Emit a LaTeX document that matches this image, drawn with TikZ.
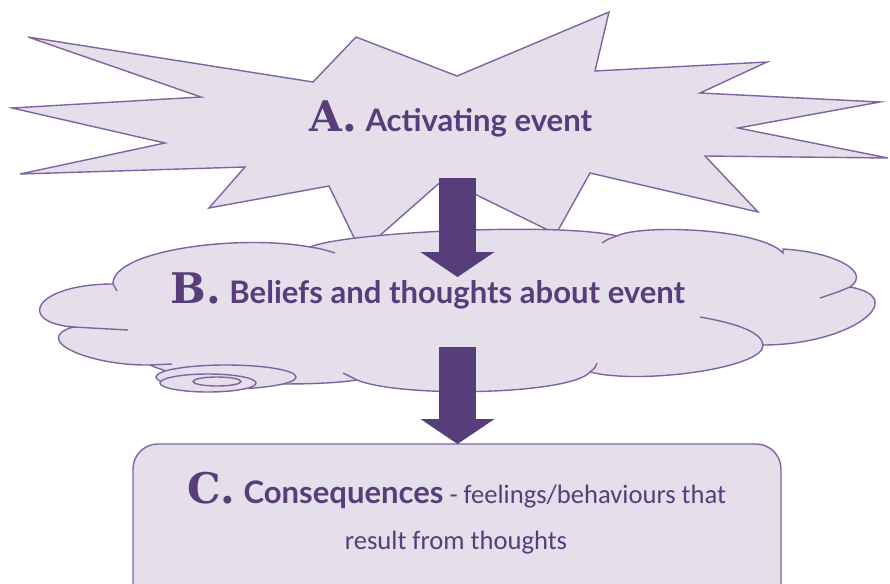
\documentclass[tikz,border=0pt]{standalone}
\usepackage{fontspec}
\setmainfont{Carlito}
\newfontfamily\headfont{Lato}
\newfontfamily\letterfont{DejaVu Serif}
\usepackage{tikz}
\usetikzlibrary{arrows.meta,positioning}

\definecolor{lilac}{HTML}{E5DFEC}
\definecolor{edgepurple}{HTML}{8064A2}
\definecolor{darkpurple}{HTML}{573E7A}

\newcommand{\stepletter}[1]{{\letterfont\bfseries\fontsize{36}{40}\selectfont #1}\hspace{7pt}}
\newcommand{\stephead}[1]{{\headfont\bfseries\fontsize{26.5}{30}\selectfont #1}}

\begin{document}
\begin{tikzpicture}[x=0.03cm,y=-0.03cm,
  outline/.style={draw=edgepurple,fill=lilac,line width=1.2pt},
  tail/.style={draw=edgepurple,line width=1.2pt},
  big arrow/.style={draw=darkpurple,line width=1.11cm,
    -{Triangle[width=2.22cm,length=0.75cm,line width=0pt]}},
  steptext/.style={anchor=base,inner sep=0pt,text=darkpurple,font=\fontsize{22.7}{27}\selectfont}]
\useasboundingbox (0,0) rectangle (890,583);
\clip (0,0) rectangle (890,583);

% A: the burst
\path[outline] (28,37) -- (313,82) -- (356,37) -- (457,76) -- (609,12) -- (595,71)
  -- (767,62) -- (700,93) -- (880,102) -- (738,128) -- (888,158) -- (705,156)
  -- (758,212) -- (590,173) -- (556,234) -- (444,179) -- (361,252) -- (329,186)
  -- (209,208) -- (245,167) -- (20,174) -- (165,143) -- (12,108) -- (201,97) -- cycle;

% B: the cloud, bump by bump
\path[outline] (113,284)
  .. controls (112,250) and (240,234) .. (310,247)
  .. controls (345,232) and (560,222) .. (617,236)
  .. controls (640,224) and (760,228) .. (783,253) -- (783,249)
  .. controls (835,252) and (872,272) .. (850,287)
  .. controls (912,298) and (850,345) .. (763,345)
  .. controls (765,368) and (640,385) .. (590,372)
  .. controls (570,395) and (400,398) .. (357,380)
  .. controls (320,386) and (200,388) .. (150,365)
  .. controls (90,366) and (30,340) .. (73,327)
  .. controls (15,322) and (35,284) .. (113,284) -- cycle;
% inner ends of the bumps
\draw[tail] (310,247) .. controls (322,249) .. (335,253);
\draw[tail] (602,243) .. controls (608,239) .. (617,236);
\draw[tail] (850,287) .. controls (838,292) .. (820,298);
\draw[tail] (700,317) .. controls (740,324) and (762,333) .. (763,345);
\draw[tail] (590,372) .. controls (595,368) .. (597,363);
\draw[tail] (357,380) .. controls (350,377) .. (343,373);
\draw[tail] (150,365) -- (172,364);
\draw[tail] (73,327) .. controls (100,329) .. (128,330);
\draw[tail] (113,284) -- (117,291);
% little swirl under the cloud
\path[outline] (226,377) ellipse [x radius=70, y radius=12];
\path[outline] (208,383) ellipse [x radius=48, y radius=9];
\path[outline] (217,381.5) ellipse [x radius=24, y radius=4.5];

% C: box running off the bottom
\node[outline,rounded corners=0.75cm,minimum width=648*0.03cm,minimum height=200*0.03cm,
  inner sep=0pt] (boxC) at (457,544) {};

% texts
\node[steptext] (actA) at (451,131) {\stepletter{A.}\stephead{Activating event}};
\node[steptext] (belB) at (428,303) {\stepletter{B.}\stephead{Beliefs and thoughts about event}};
\node[steptext] (conC) at (457,503) {\stepletter{C.}\stephead{Consequences} - feelings/behaviours that};
\node[steptext] (conC2) at (456,549) {result from thoughts};

% arrows A -> B -> C
\coordinate (arrA) at (457.5,178);
\coordinate (arrB) at (457.5,277);
\coordinate (arrC) at (457.5,347);
\coordinate (arrD) at (457.5,444);
\draw[big arrow] (arrA) -- (arrB);
\draw[big arrow] (arrC) -- (arrD);
\end{tikzpicture}
\end{document}
